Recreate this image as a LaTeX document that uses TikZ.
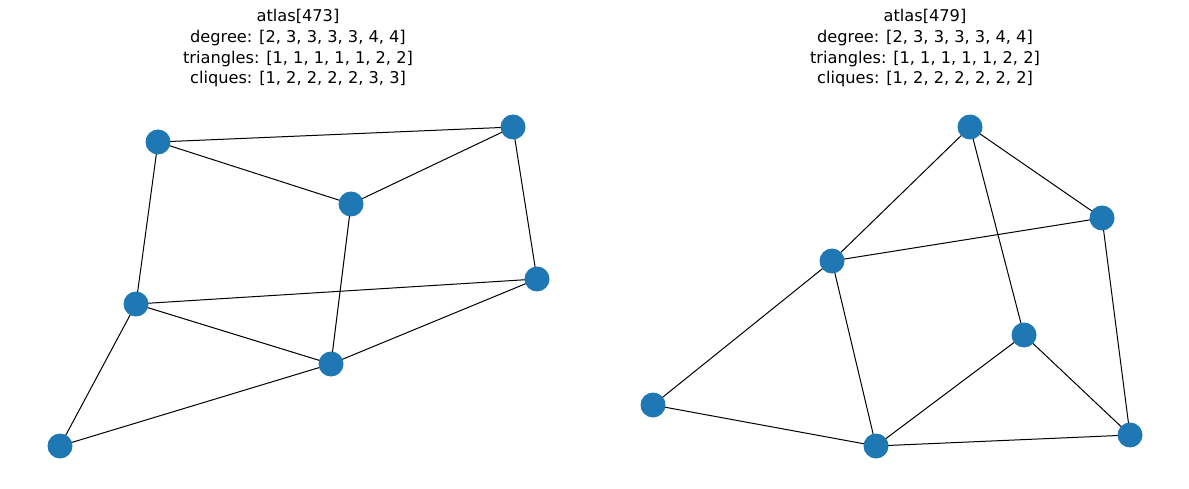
\documentclass[tikz,border=0pt]{standalone}
\usepackage{fontspec}
\setmainfont{DejaVu Sans}
\definecolor{nodeblue}{RGB}{31,119,180}
\pgfdeclarelayer{edges}
\pgfsetlayers{edges,main}
\begin{document}
\begin{tikzpicture}[x=1pt,y=-1pt,
  vertex/.style={circle,fill=nodeblue,draw=none,minimum size=25pt,inner sep=0pt},
  edge/.style={draw=black,line width=1pt},
  caption/.style={align=center,font=\fontsize{16.2}{20.7}\selectfont,anchor=north}]
\useasboundingbox (0,0) rectangle (1189,489);
% titles
\node[caption] (t1) at (298,6) {atlas[473]\\degree: [2, 3, 3, 3, 3, 4, 4]\\triangles: [1, 1, 1, 1, 1, 2, 2]\\cliques: [1, 2, 2, 2, 2, 3, 3]};
\node[caption] (t2) at (925,6) {atlas[479]\\degree: [2, 3, 3, 3, 3, 4, 4]\\triangles: [1, 1, 1, 1, 1, 2, 2]\\cliques: [1, 2, 2, 2, 2, 2, 2]};
% left graph
\node[vertex] (a) at (158,142) {};
\node[vertex] (b) at (513,127) {};
\node[vertex] (c) at (351,204) {};
\node[vertex] (d) at (537,279) {};
\node[vertex] (e) at (136,304) {};
\node[vertex] (f) at (331,364) {};
\node[vertex] (g) at (60,446) {};
% right graph
\node[vertex] (p) at (970,127) {};
\node[vertex] (q) at (1102,218) {};
\node[vertex] (r) at (832,261) {};
\node[vertex] (s) at (1024,335) {};
\node[vertex] (t) at (653,405) {};
\node[vertex] (u) at (876,446) {};
\node[vertex] (v) at (1130,435) {};
% edges beneath the vertices
\begin{pgfonlayer}{edges}
\foreach \i/\j in {a/b,a/c,c/b,a/e,b/d,c/f,e/d,e/f,f/d,e/g,g/f,
                   p/q,p/r,p/s,r/q,q/v,r/t,r/u,s/u,s/v,t/u,u/v}
  \draw[edge] (\i.center) -- (\j.center);
\end{pgfonlayer}
\end{tikzpicture}
\end{document}
